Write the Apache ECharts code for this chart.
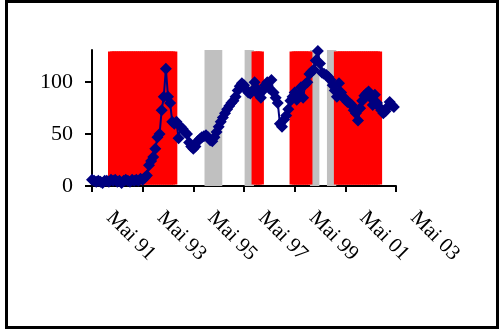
<!DOCTYPE html>
<html>
<head>
<meta charset="utf-8">
<script src="https://cdn.jsdelivr.net/npm/echarts@6/dist/echarts.min.js"></script>
<style>
html,body{margin:0;padding:0;background:#fff;}
#c{width:501px;height:329px;}
</style>
</head>
<body>
<div id="c"></div>
<script>
// Monthly values, Mai 91 .. Apr 03
const values = [
6,5,4,5,4,3,5,5,4,6,5,6,4,5,3,5,6,5,4,6,5,6,5,7,6,8,10,20,24,28,
36,47,50,73,86,113,86,80,62,60,62,46,57,55,52,50,42,38,36,38,43,45,47,48,49,47,44,43,47,52,
57,62,66,70,74,77,80,82,86,92,96,99,97,93,90,89,92,100,94,88,85,92,97,100,94,102,90,85,80,60,
57,64,68,74,82,86,90,83,88,95,85,98,100,108,110,112,121,130,118,109,108,107,105,102,97,92,86,99,90,86,
83,81,80,78,73,70,63,75,82,87,89,91,85,78,88,80,76,73,70,72,76,81,78,76
];
const startYear = 1991, startMonth = 5, monthCount = 145;
const xTickLabels = ['Mai 91','Mai 93','Mai 95','Mai 97','Mai 99','Mai 01','Mai 03'];
const yTickValues = [0, 50, 100];
const yMax = 131;
// shaded periods [first month, last month]
const redPeriods = [['1992-02','1994-08'],['1997-10','1998-01'],['1999-04','1999-12'],['2001-01','2002-09']];
const grayPeriods = [['1995-11','1996-06'],['1997-06','1997-09'],['2000-01','2000-04'],['2000-09','2000-12']];

const months = [];
for (let i = 0; i < monthCount; i++) {
  const m = startMonth - 1 + i;
  const y = startYear + Math.floor(m / 12);
  const mm = (m % 12) + 1;
  months.push(y + '-' + (mm < 10 ? '0' + mm : mm));
}
function band(periods) {
  return months.map(function (m) {
    return periods.some(function (p) { return m >= p[0] && m <= p[1]; }) ? yMax : '-';
  });
}

const chart = echarts.init(document.getElementById('c'), null, {renderer: 'canvas'});
const font = 'Liberation Serif';
chart.setOption({
  animation: false,
  backgroundColor: '#fff',
  grid: {left: 92, right: 105, top: 50, bottom: 143, containLabel: false},
  graphic: [{
    type: 'rect',
    shape: {x: 6.5, y: 1.5, width: 491, height: 326},
    style: {fill: 'none', stroke: '#000', lineWidth: 3},
    silent: true, z: 100
  }],
  xAxis: {
    type: 'category',
    data: months,
    boundaryGap: false,
    axisLine: {lineStyle: {color: '#000', width: 2}},
    axisTick: {interval: 23, length: 6, lineStyle: {color: '#000', width: 2}},
    axisLabel: {
      interval: 23,
      rotate: -45,
      margin: 11,
      padding: [0, 0, 0, 25],
      color: '#000',
      fontFamily: font,
      fontSize: 21,
      formatter: function (v, idx) { return xTickLabels[Math.round(idx / 24)]; }
    },
    splitLine: {show: false}
  },
  yAxis: {
    type: 'value',
    min: 0,
    max: yMax,
    axisLine: {show: true, lineStyle: {color: '#000', width: 2}},
    axisTick: {show: true, length: 7, customValues: yTickValues, lineStyle: {color: '#000', width: 2}},
    axisLabel: {customValues: yTickValues, margin: 19, color: '#000', fontFamily: font, fontSize: 22},
    splitLine: {show: false}
  },
  series: [
    {
      type: 'bar', data: band(grayPeriods), barWidth: 3, barGap: '-100%',
      itemStyle: {color: '#c0c0c0'}, clip: false, z: 1
    },
    {
      type: 'bar', data: band(redPeriods), barWidth: 3, barGap: '-100%',
      itemStyle: {color: '#ff0000', borderColor: '#ff0000', borderWidth: 6}, clip: false, z: 2
    },
    {
      type: 'line', data: values, symbol: 'diamond', symbolSize: 12,
      showSymbol: true, showAllSymbol: true,
      lineStyle: {color: '#000080', width: 2},
      itemStyle: {color: '#000080'}, z: 5
    }
  ]
});
</script>
</body>
</html>
